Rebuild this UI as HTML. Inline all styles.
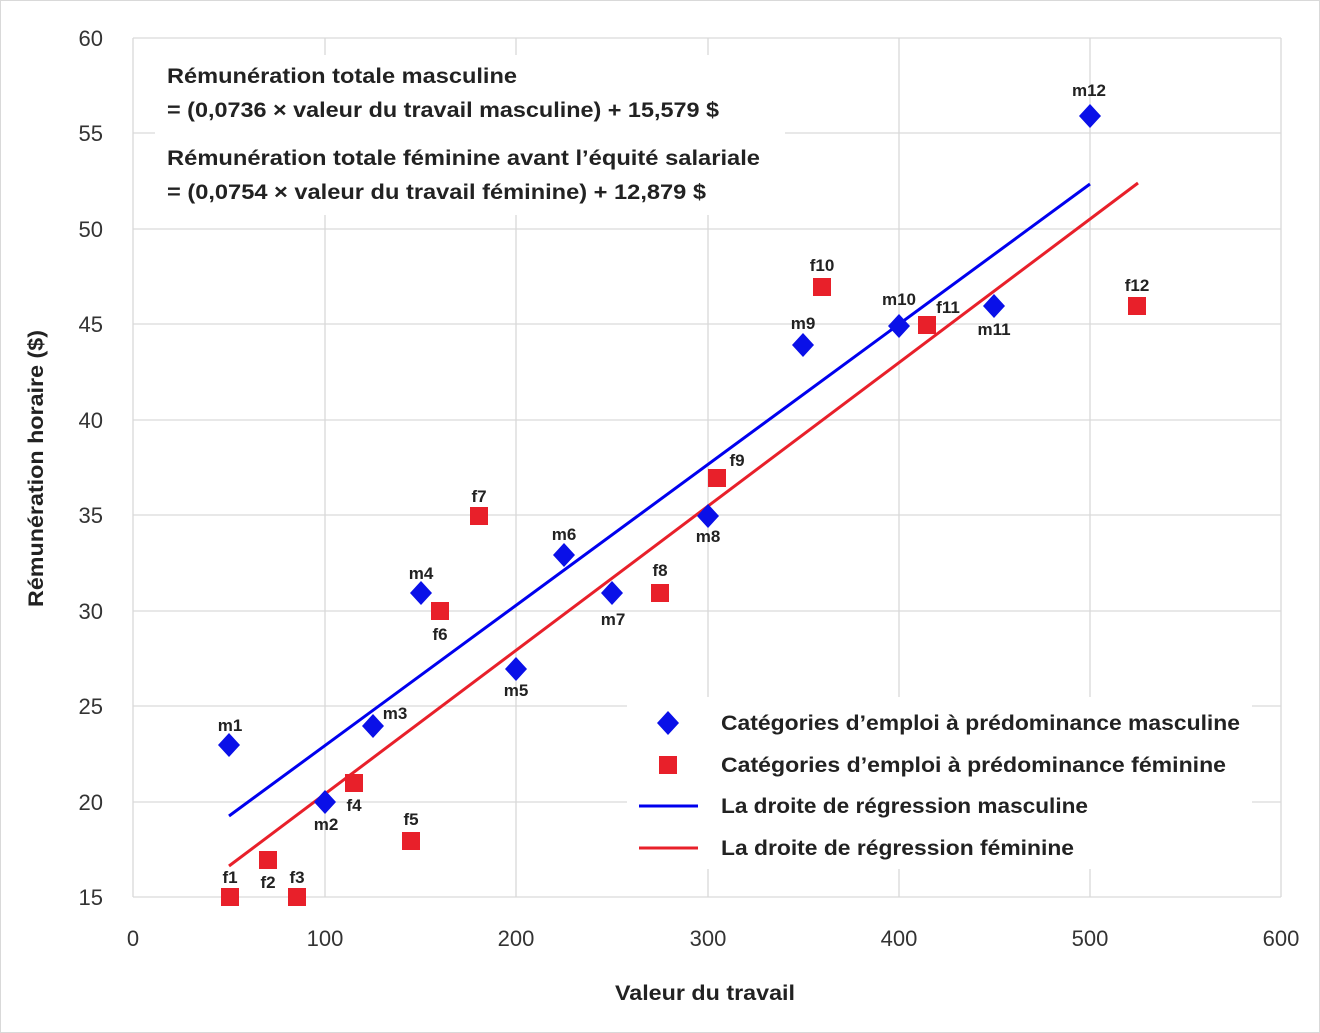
<!DOCTYPE html>
<html><head><meta charset="utf-8"><style>
html,body{margin:0;padding:0;background:#fff}
svg{display:block;font-family:"Liberation Sans",sans-serif}
</style></head><body>
<svg width="1320" height="1033" viewBox="0 0 1320 1033" xmlns="http://www.w3.org/2000/svg">
<rect x="0.5" y="0.5" width="1319" height="1032" fill="#fff" stroke="#d9d9d9"/>
<g stroke="#d9d9d9" stroke-width="1.3">
<line x1="133" y1="38" x2="1281" y2="38"/><line x1="133" y1="133" x2="1281" y2="133"/>
<line x1="133" y1="229" x2="1281" y2="229"/><line x1="133" y1="324" x2="1281" y2="324"/>
<line x1="133" y1="420" x2="1281" y2="420"/><line x1="133" y1="515" x2="1281" y2="515"/>
<line x1="133" y1="611" x2="1281" y2="611"/><line x1="133" y1="706" x2="1281" y2="706"/>
<line x1="133" y1="802" x2="1281" y2="802"/><line x1="133" y1="897" x2="1281" y2="897"/>
<line x1="133" y1="38" x2="133" y2="897"/><line x1="325" y1="38" x2="325" y2="897"/>
<line x1="516" y1="38" x2="516" y2="897"/><line x1="708" y1="38" x2="708" y2="897"/>
<line x1="899" y1="38" x2="899" y2="897"/><line x1="1090" y1="38" x2="1090" y2="897"/>
<line x1="1281" y1="38" x2="1281" y2="897"/>
</g>
<rect x="155" y="55" width="630" height="160" fill="#fff"/>
<g font-size="22" fill="#333" text-anchor="end">
<text x="103" y="46">60</text><text x="103" y="141">55</text><text x="103" y="237">50</text>
<text x="103" y="332">45</text><text x="103" y="428">40</text><text x="103" y="523">35</text>
<text x="103" y="619">30</text><text x="103" y="714">25</text><text x="103" y="810">20</text>
<text x="103" y="905">15</text>
</g>
<g font-size="22" fill="#333" text-anchor="middle">
<text x="133" y="946">0</text><text x="325" y="946">100</text><text x="516" y="946">200</text>
<text x="708" y="946">300</text><text x="899" y="946">400</text><text x="1090" y="946">500</text>
<text x="1281" y="946">600</text>
</g>
<text x="615" y="1000" font-size="21" font-weight="bold" fill="#222" textLength="180" lengthAdjust="spacingAndGlyphs">Valeur du travail</text>
<text transform="translate(43,607) rotate(-90)" font-size="21" font-weight="bold" fill="#222" textLength="277" lengthAdjust="spacingAndGlyphs">Rémunération horaire ($)</text>
<g font-size="21" font-weight="bold" fill="#222" lengthAdjust="spacingAndGlyphs">
<text x="167" y="83" textLength="350" lengthAdjust="spacingAndGlyphs">Rémunération totale masculine</text>
<text x="167" y="117" textLength="552" lengthAdjust="spacingAndGlyphs">= (0,0736 × valeur du travail masculine) + 15,579 $</text>
<text x="167" y="165" textLength="593" lengthAdjust="spacingAndGlyphs">Rémunération totale féminine avant l’équité salariale</text>
<text x="167" y="199" textLength="539" lengthAdjust="spacingAndGlyphs">= (0,0754 × valeur du travail féminine) + 12,879 $</text>
</g>
<line x1="229" y1="816" x2="1090" y2="184" stroke="#0000ee" stroke-width="3"/>
<line x1="229" y1="866" x2="1138" y2="183" stroke="#e8202a" stroke-width="3"/>
<g fill="#0a10e8">
<path d="M229,733 l11,12 l-11,12 l-11,-12z"/><path d="M325,790 l11,12 l-11,12 l-11,-12z"/>
<path d="M373,714 l11,12 l-11,12 l-11,-12z"/><path d="M421,581 l11,12 l-11,12 l-11,-12z"/>
<path d="M516,657 l11,12 l-11,12 l-11,-12z"/><path d="M564,543 l11,12 l-11,12 l-11,-12z"/>
<path d="M612,581 l11,12 l-11,12 l-11,-12z"/><path d="M708,504 l11,12 l-11,12 l-11,-12z"/>
<path d="M803,333 l11,12 l-11,12 l-11,-12z"/><path d="M899,314 l11,12 l-11,12 l-11,-12z"/>
<path d="M994,294 l11,12 l-11,12 l-11,-12z"/><path d="M1090,104 l11,12 l-11,12 l-11,-12z"/>
</g>
<g fill="#e8202a">
<rect x="221" y="888" width="18" height="18"/><rect x="259" y="851" width="18" height="18"/>
<rect x="288" y="888" width="18" height="18"/><rect x="345" y="774" width="18" height="18"/>
<rect x="402" y="832" width="18" height="18"/><rect x="431" y="602" width="18" height="18"/>
<rect x="470" y="507" width="18" height="18"/><rect x="651" y="584" width="18" height="18"/>
<rect x="708" y="469" width="18" height="18"/><rect x="813" y="278" width="18" height="18"/>
<rect x="918" y="316" width="18" height="18"/><rect x="1128" y="297" width="18" height="18"/>
</g>
<g font-size="17" font-weight="bold" fill="#222" text-anchor="middle">
<text x="230" y="731">m1</text><text x="326" y="830">m2</text><text x="395" y="719">m3</text>
<text x="421" y="579">m4</text><text x="516" y="696">m5</text><text x="564" y="540">m6</text>
<text x="613" y="625">m7</text><text x="708" y="542">m8</text><text x="803" y="329">m9</text>
<text x="899" y="305">m10</text><text x="994" y="335">m11</text><text x="1089" y="96">m12</text>
<text x="230" y="883">f1</text><text x="268" y="888">f2</text><text x="297" y="883">f3</text>
<text x="354" y="811">f4</text><text x="411" y="825">f5</text><text x="440" y="640">f6</text>
<text x="479" y="502">f7</text><text x="660" y="576">f8</text><text x="737" y="466">f9</text>
<text x="822" y="271">f10</text><text x="948" y="313">f11</text><text x="1137" y="291">f12</text>
</g>
<rect x="627" y="697" width="625" height="172" fill="#fff"/>
<path d="M668,711 l11,12 l-11,12 l-11,-12z" fill="#0a10e8"/>
<rect x="659" y="756" width="18" height="18" fill="#e8202a"/>
<line x1="639" y1="806" x2="698" y2="806" stroke="#0000ee" stroke-width="3"/>
<line x1="639" y1="848" x2="698" y2="848" stroke="#e8202a" stroke-width="3"/>
<g font-size="21" font-weight="bold" fill="#222">
<text x="721" y="730" textLength="519" lengthAdjust="spacingAndGlyphs">Catégories d’emploi à prédominance masculine</text>
<text x="721" y="772" textLength="505" lengthAdjust="spacingAndGlyphs">Catégories d’emploi à prédominance féminine</text>
<text x="721" y="813" textLength="367" lengthAdjust="spacingAndGlyphs">La droite de régression masculine</text>
<text x="721" y="855" textLength="353" lengthAdjust="spacingAndGlyphs">La droite de régression féminine</text>
</g>
</svg>
</body></html>
